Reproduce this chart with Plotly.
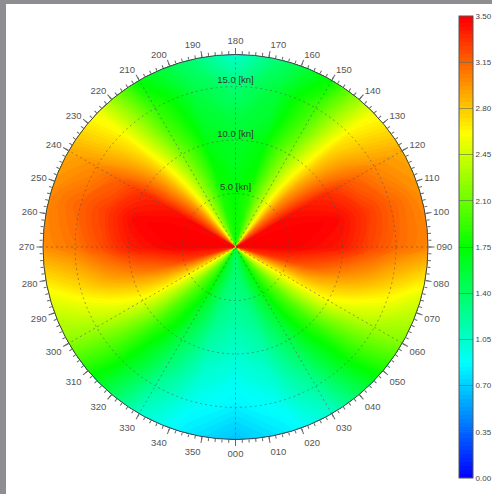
import math
import plotly.graph_objects as go

# Values: rows are directions (deg), columns are speeds (kn)
speeds = [0.1, 2.5, 5, 7.5, 10, 12.5, 15, 18]
directions = [0, 15, 30, 45, 60, 75, 90, 105, 120, 135, 150, 165, 180,
              195, 210, 225, 240, 255, 270, 285, 300, 315, 330, 345, 360]
values = [
    [1.40, 1.35, 1.25, 1.15, 1.03, 0.92, 0.82, 0.66],
    [1.55, 1.48, 1.36, 1.26, 1.15, 1.03, 0.92, 0.80],
    [1.75, 1.72, 1.68, 1.58, 1.48, 1.36, 1.22, 1.05],
    [2.10, 2.15, 2.10, 2.02, 1.92, 1.82, 1.75, 1.62],
    [2.65, 2.70, 2.65, 2.65, 2.58, 2.42, 2.30, 2.18],
    [3.25, 3.30, 3.25, 3.15, 3.00, 2.88, 2.72, 2.50],
    [3.50, 3.50, 3.50, 3.45, 3.40, 3.25, 3.12, 3.02],
    [3.50, 3.50, 3.50, 3.50, 3.45, 3.30, 3.15, 3.00],
    [3.40, 3.45, 3.45, 3.40, 3.32, 3.15, 3.00, 2.90],
    [3.00, 3.05, 3.00, 2.92, 2.82, 2.75, 2.65, 2.55],
    [2.20, 2.30, 2.35, 2.30, 2.20, 2.05, 1.95, 1.75],
    [1.90, 1.85, 1.85, 1.75, 1.70, 1.60, 1.55, 1.40],
    [1.75, 1.75, 1.72, 1.65, 1.60, 1.50, 1.35, 1.05],
    [1.90, 1.85, 1.82, 1.75, 1.68, 1.60, 1.52, 1.38],
    [2.20, 2.30, 2.30, 2.25, 2.15, 2.00, 1.90, 1.70],
    [3.00, 3.00, 2.98, 2.88, 2.80, 2.70, 2.62, 2.55],
    [3.40, 3.45, 3.45, 3.40, 3.32, 3.15, 3.00, 2.90],
    [3.50, 3.50, 3.50, 3.50, 3.45, 3.28, 3.15, 3.02],
    [3.50, 3.50, 3.50, 3.45, 3.38, 3.22, 3.08, 3.00],
    [3.25, 3.30, 3.25, 3.12, 3.00, 2.88, 2.72, 2.55],
    [2.65, 2.70, 2.65, 2.62, 2.55, 2.42, 2.30, 2.20],
    [2.10, 2.15, 2.08, 2.00, 1.92, 1.82, 1.75, 1.62],
    [1.75, 1.72, 1.68, 1.58, 1.48, 1.36, 1.22, 1.05],
    [1.55, 1.48, 1.36, 1.26, 1.15, 1.03, 0.92, 0.80],
    [1.40, 1.35, 1.25, 1.15, 1.03, 0.92, 0.82, 0.66],
]
cbar_ticks = [0.00, 0.35, 0.70, 1.05, 1.40, 1.75, 2.10, 2.45, 2.80, 3.15, 3.50]
ring_speeds = [5, 10, 15]
ring_labels = ["5.0 [kn]", "10.0 [kn]", "15.0 [kn]"]
label_dirs = list(range(0, 360, 10))
label_text = [f"{d:03d}" for d in label_dirs]
minor_dirs = list(range(0, 360, 2))
spoke_dirs = [0, 30, 60, 90, 120, 150]

R_MAX = 18
W, H = 492, 494
CX, CY, RPX = 235.5, 247, 192.5
dom_x = [(CX - RPX) / W, (CX + RPX) / W]
dom_y = [1 - (CY + RPX) / H, 1 - (CY - RPX) / H]
scale = [[0, "#0000ff"], [0.25, "#00ffff"], [0.5, "#00ff00"], [0.75, "#ffff00"], [1, "#ff0000"]]
GRID = "rgba(80,80,80,0.55)"

xs = [[r * math.sin(math.radians(d)) for r in speeds] for d in directions]
ys = [[-r * math.cos(math.radians(d)) for r in speeds] for d in directions]

hidden = dict(showgrid=False, showticklabels="none", showline=False, startline=False,
              endline=False, minorgridcount=0, smoothing=1)
fig = go.Figure()
fig.add_trace(go.Carpet(a=speeds, b=directions, x=xs, y=ys, carpet="c1",
                        aaxis=hidden, baxis=hidden))
fig.add_trace(go.Contourcarpet(
    a=speeds, b=directions, z=values, carpet="c1", colorscale=scale, zmin=0, zmax=3.5,
    autocontour=False, contours=dict(start=0, end=3.5, size=0.03, coloring="fill", showlines=False),
    line=dict(width=0),
    colorbar=dict(tickmode="array", tickvals=cbar_ticks, tickformat=".2f",
                  thickness=14, thicknessmode="pixels", len=462, lenmode="pixels",
                  x=459 / W, xanchor="left", xpad=0, y=1 - 16 / H, yanchor="top", ypad=0,
                  ticks="inside", ticklen=14, tickcolor="rgba(90,110,90,0.6)", tickwidth=1,
                  outlinecolor="#555", outlinewidth=1, borderwidth=0,
                  tickfont=dict(family="Liberation Sans", size=8, color="#444")),
))

# dashed spokes
for d in spoke_dirs:
    fig.add_trace(go.Scatterpolar(r=[R_MAX, R_MAX], theta=[d, d + 180], mode="lines", hoverinfo="skip",
                                  showlegend=False, line=dict(color=GRID, width=1, dash="2px,3px")))
# ring labels
fig.add_trace(go.Scatterpolar(r=[s + 0.55 for s in ring_speeds], theta=[180] * 3, mode="text", text=ring_labels,
                              textfont=dict(family="Liberation Sans", size=9.5, color="#333"),
                              hoverinfo="skip", showlegend=False, cliponaxis=False))
# second polar frame only carries the long labelled rim ticks
fig.add_trace(go.Scatterpolar(r=[R_MAX], theta=[0], mode="markers", marker=dict(opacity=0), subplot="polar2",
                              hoverinfo="skip", showlegend=False))

fig.update_layout(
    width=W, height=H, margin=dict(l=0, r=0, t=0, b=0, autoexpand=False), showlegend=False,
    paper_bgcolor="white", plot_bgcolor="rgba(0,0,0,0)",
    xaxis=dict(domain=dom_x, range=[-R_MAX, R_MAX], visible=False, fixedrange=True),
    yaxis=dict(domain=dom_y, range=[-R_MAX, R_MAX], visible=False, fixedrange=True),
    polar=dict(
        domain=dict(x=dom_x, y=dom_y), bgcolor="rgba(0,0,0,0)",
        radialaxis=dict(range=[0, R_MAX], tickvals=ring_speeds, showticklabels=False, ticks="",
                        showline=False, gridcolor=GRID, griddash="2px,3px", gridwidth=1),
        angularaxis=dict(rotation=-90, direction="counterclockwise", tickmode="array",
                         tickvals=minor_dirs, ticktext=[""] * len(minor_dirs), showticklabels=False,
                         showgrid=False, showline=True, linecolor="#444", linewidth=1,
                         ticks="outside", ticklen=3, tickcolor="#666", tickwidth=1),
    ),
    polar2=dict(
        domain=dict(x=dom_x, y=dom_y), bgcolor="rgba(0,0,0,0)",
        radialaxis=dict(range=[0, R_MAX], visible=False),
        angularaxis=dict(rotation=-90, direction="counterclockwise", tickmode="array",
                         tickvals=label_dirs, ticktext=label_text, showgrid=False, showline=False,
                         ticks="outside", ticklen=6, tickcolor="#666", tickwidth=1,
                         tickfont=dict(family="Liberation Sans", size=9.5, color="#555")),
    ),
    shapes=[
        dict(type="rect", xref="paper", yref="paper", x0=0, x1=1, y0=1 - 4 / H, y1=1,
             fillcolor="#8e8e92", line_width=0, layer="below"),
        dict(type="rect", xref="paper", yref="paper", x0=0, x1=6 / W, y0=0, y1=1,
             fillcolor="#8e8e92", line_width=0, layer="below"),
    ],
)
fig.write_html("out.html", config=dict(displayModeBar=False),
               post_script="document.documentElement.style.overflow='hidden';document.body.style.margin='0';document.body.style.overflow='hidden';")
